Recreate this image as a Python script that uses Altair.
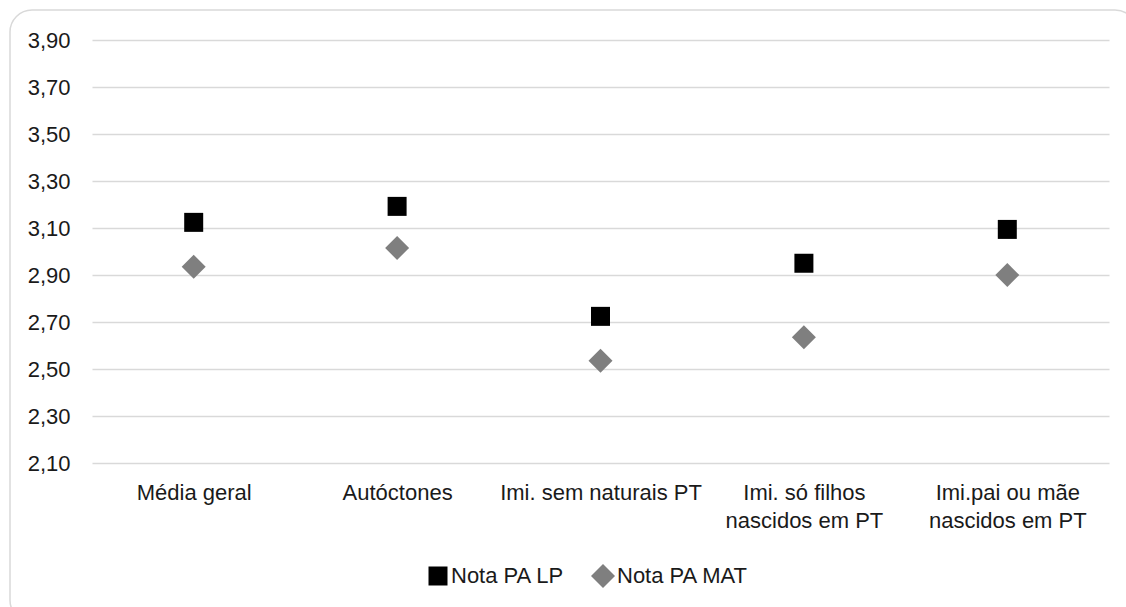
import altair as alt
import pandas as pd

categories = [
    "Média geral",
    "Autóctones",
    "Imi. sem naturais PT",
    "Imi. só filhos\nnascidos em PT",
    "Imi.pai ou mãe\nnascidos em PT",
]
lp_values = [3.124, 3.192, 2.724, 2.950, 3.094]
mat_values = [2.935, 3.015, 2.535, 2.635, 2.900]
series_names = ["Nota PA LP", "Nota PA MAT"]
y_ticks = [2.1, 2.3, 2.5, 2.7, 2.9, 3.1, 3.3, 3.5, 3.7, 3.9]

rows = []
for c, v in zip(categories, lp_values):
    rows.append({"cat": c, "series": series_names[0], "value": v})
for c, v in zip(categories, mat_values):
    rows.append({"cat": c, "series": series_names[1], "value": v})
df = pd.DataFrame(rows)

FONT = "Liberation Sans"
TXT = "#1a1a1a"
FS = 22

points = alt.Chart(df).mark_point(filled=True, opacity=1).encode(
    x=alt.X("cat:N", sort=categories, title=None,
            scale=alt.Scale(type="point", padding=0.5),
            axis=alt.Axis(labelAngle=0, labelExpr="split(datum.label, '\\n')",
                          labelLineHeight=28, labelPadding=19, ticks=False,
                          domain=False, labelFontSize=FS, labelColor=TXT,
                          labelFont=FONT, labelBaseline="top", labelLimit=0)),
    y=alt.Y("value:Q", title=None,
            scale=alt.Scale(domain=[2.1, 3.9], nice=False, zero=False),
            axis=alt.Axis(values=y_ticks,
                          labelExpr="replace(format(datum.value, '.2f'), '.', ',')",
                          ticks=False, domain=False, labelPadding=22,
                          labelFontSize=FS, labelColor=TXT, labelFont=FONT,
                          gridColor="#d9d9d9", gridWidth=1.3)),
    color=alt.Color("series:N", title=None,
                    scale=alt.Scale(domain=series_names, range=["#000000", "#7f7f7f"]),
                    legend=alt.Legend(orient="none", direction="horizontal",
                                      legendX=335, legendY=524,
                                      labelFontSize=FS, labelFont=FONT, labelColor=TXT,
                                      symbolSize=115, symbolStrokeWidth=0,
                                      columnPadding=26, labelOffset=2, labelLimit=0)),
    shape=alt.Shape("series:N", title=None,
                    scale=alt.Scale(domain=series_names, range=["square", "diamond"])),
    size=alt.Size("series:N", legend=None,
                  scale=alt.Scale(domain=series_names, range=[361, 576])),
)

frame = alt.Chart(alt.Data(values=[{}])).mark_rect(
    cornerRadius=22, fillOpacity=0, stroke="#d9d9d9", strokeWidth=1.5
).encode(
    x=alt.value(-82), x2=alt.value(1045), y=alt.value(-30), y2=alt.value(582)
)

chart = alt.layer(frame, points).properties(
    width=1017, height=423,
    autosize=alt.AutoSizeParams(type="none"),
    padding={"left": 92, "top": 40, "right": 17, "bottom": 144},
    background="white",
).configure_view(stroke=None)

chart.save("out.html", embed_options={"renderer": "svg", "actions": False})
